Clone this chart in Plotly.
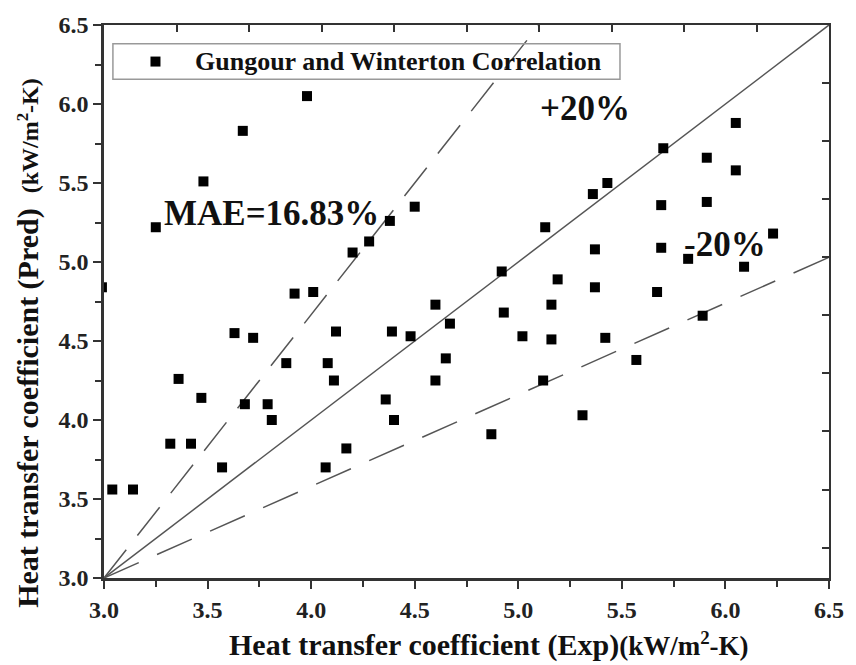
import plotly.graph_objects as go

# Experimental vs predicted heat transfer coefficient (kW/m2-K)
exp_x = [3.98, 3.67, 3.48, 3.25, 3.92, 4.01, 4.50, 4.38, 4.28, 4.20,
         5.13, 4.92, 5.19, 6.05, 5.70, 5.91, 6.05, 5.43, 5.36, 5.69,
         5.91, 5.37, 5.69, 6.23, 5.82, 6.09, 5.37, 5.67, 3.63, 3.72,
         4.12, 3.88, 4.08, 4.11, 3.36, 3.47, 3.68, 3.79, 3.81, 3.32,
         3.42, 3.57, 3.04, 3.14, 4.07, 4.17, 4.60, 4.39, 4.48, 4.67,
         4.93, 5.16, 5.02, 5.16, 4.65, 4.60, 4.36, 4.40, 5.12, 5.31,
         4.87, 5.42, 5.57, 5.89, 2.99]
pred_y = [6.05, 5.83, 5.51, 5.22, 4.80, 4.81, 5.35, 5.26, 5.13, 5.06,
          5.22, 4.94, 4.89, 5.88, 5.72, 5.66, 5.58, 5.50, 5.43, 5.36,
          5.38, 5.08, 5.09, 5.18, 5.02, 4.97, 4.84, 4.81, 4.55, 4.52,
          4.56, 4.36, 4.36, 4.25, 4.26, 4.14, 4.10, 4.10, 4.00, 3.85,
          3.85, 3.70, 3.56, 3.56, 3.70, 3.82, 4.73, 4.56, 4.53, 4.61,
          4.68, 4.73, 4.53, 4.51, 4.39, 4.25, 4.13, 4.00, 4.25, 4.03,
          3.91, 4.52, 4.38, 4.66, 4.84]

# Reference lines (parity, upper and lower bounds)
parity_x = [3.0, 6.5]
parity_y = [3.0, 6.5]
upper_x = [3.0, 5.10]
upper_y = [3.0, 6.5]
lower_x = [3.0, 6.5]
lower_y = [3.0, 5.03]

x_range = [3.0, 6.5]
y_range = [3.0, 6.5]
top_ticks = [3.35, 3.70, 4.05, 4.40, 4.75, 5.10, 5.45, 5.80, 6.15]
right_ticks = [6.1325, 5.765, 5.3975, 5.03, 4.6625, 4.295, 3.9275, 3.56, 3.1925]

series_name = "Gungour and Winterton Correlation"
mae_label = "MAE=16.83%"
plus_label = "+20%"
minus_label = "-20%"

FONT = "Liberation Serif"
AX = "#333333"
LN = "#555555"
TXT = "#111111"

fig = go.Figure()

fig.add_trace(go.Scatter(x=parity_x, y=parity_y, mode="lines",
                         line=dict(color=LN, width=1.5), showlegend=False, hoverinfo="skip"))
fig.add_trace(go.Scatter(x=upper_x, y=upper_y, mode="lines",
                         line=dict(color=LN, width=1.5, dash="36px,18px"), showlegend=False, hoverinfo="skip"))
fig.add_trace(go.Scatter(x=lower_x, y=lower_y, mode="lines",
                         line=dict(color=LN, width=1.5, dash="38px,20px"), showlegend=False, hoverinfo="skip"))
fig.add_trace(go.Scatter(x=exp_x, y=pred_y, mode="markers", name=series_name, showlegend=False,
                         marker=dict(symbol="square", size=10, color="#000000", line=dict(width=0))))
# helper trace to activate the mirrored top/right axes
fig.add_trace(go.Scatter(x=[x_range[0]], y=[y_range[0]], xaxis="x2", yaxis="y2", mode="markers",
                         marker=dict(opacity=0), showlegend=False, hoverinfo="skip"))

fig.update_layout(
    width=856, height=665,
    margin=dict(l=104, r=20, t=18, b=87),
    paper_bgcolor="white", plot_bgcolor="white",
    font=dict(family=FONT, color=TXT, weight="bold"),
    xaxis=dict(range=x_range, tick0=3.0, dtick=0.5, tickformat=".1f",
               ticks="outside", ticklen=8, tickwidth=2, tickcolor=AX,
               minor=dict(ticks="outside", ticklen=6, tickwidth=1.5, tickcolor=AX, dtick=0.25),
               showline=True, linecolor=AX, linewidth=2.5, showgrid=False, zeroline=False,
               tickfont=dict(size=24, family=FONT, weight="bold", color="#222222")),
    yaxis=dict(range=y_range, tick0=3.0, dtick=0.5, tickformat=".1f",
               ticks="outside", ticklen=8, tickwidth=2, tickcolor=AX,
               minor=dict(ticks="outside", ticklen=6, tickwidth=1.5, tickcolor=AX, dtick=0.25),
               showline=True, linecolor=AX, linewidth=2.5, showgrid=False, zeroline=False,
               tickfont=dict(size=24, family=FONT, weight="bold", color="#222222")),
    xaxis2=dict(range=x_range, overlaying="x", side="top", anchor="y2",
                tickmode="array", tickvals=top_ticks, ticks="inside", ticklen=7, tickwidth=1.5,
                tickcolor=AX, showticklabels=False, showline=True, linecolor=AX, linewidth=2,
                showgrid=False, zeroline=False),
    yaxis2=dict(range=y_range, overlaying="y", side="right", anchor="x2",
                tickmode="array", tickvals=right_ticks, ticks="inside", ticklen=7, tickwidth=1.5,
                tickcolor=AX, showticklabels=False, showline=True, linecolor=AX, linewidth=2,
                showgrid=False, zeroline=False),
    showlegend=False,
)

# Legend box (drawn as a framed key, transparent so the dashed line shows through)
fig.add_shape(type="rect", xref="paper", yref="paper", x0=0.0123, x1=0.7117, y0=0.9018, y1=0.966,
              line=dict(color="#999999", width=1.5), fillcolor="rgba(0,0,0,0)", layer="above")
fig.add_shape(type="rect", xref="paper", yref="paper", xsizemode="pixel", ysizemode="pixel",
              xanchor=0.0710, yanchor=0.9339, x0=-5, x1=5, y0=-5, y1=5,
              line=dict(width=0), fillcolor="#000000", layer="above")
fig.add_annotation(x=0.1225, y=0.9339, xref="paper", yref="paper", text=series_name, showarrow=False,
                   xanchor="left", yanchor="middle",
                   font=dict(size=26, family=FONT, weight="bold", color=TXT))

fig.add_annotation(x=3.81, y=5.31, xref="x", yref="y", text=mae_label, showarrow=False,
                   xanchor="center", yanchor="middle",
                   font=dict(size=35, family=FONT, weight="bold", color=TXT))
fig.add_annotation(x=5.32, y=5.97, xref="x", yref="y", text=plus_label, showarrow=False,
                   xanchor="center", yanchor="middle",
                   font=dict(size=35, family=FONT, weight="bold", color=TXT))
fig.add_annotation(x=6.00, y=5.11, xref="x", yref="y", text=minus_label, showarrow=False,
                   xanchor="center", yanchor="middle",
                   font=dict(size=35, family=FONT, weight="bold", color=TXT))

# Axis titles
fig.add_annotation(x=-0.105, y=0.425, xref="paper", yref="paper", textangle=-90, showarrow=False,
                   xanchor="center", yanchor="middle",
                   text='Heat transfer coefficient (Pred)\u00a0\u00a0<span style="font-size:24px">(kW/m<sup>2</sup>-K)</span>',
                   font=dict(size=30, family=FONT, weight="bold", color=TXT))
fig.add_annotation(x=0.5, y=-0.12, xref="paper", yref="paper", showarrow=False,
                   xanchor="center", yanchor="middle", xshift=22,
                   text='Heat transfer coefficient (Exp)<span style="font-size:27px">(kW/m<sup>2</sup>-K)</span>',
                   font=dict(size=30, family=FONT, weight="bold", color=TXT))

fig.write_html("out.html")
